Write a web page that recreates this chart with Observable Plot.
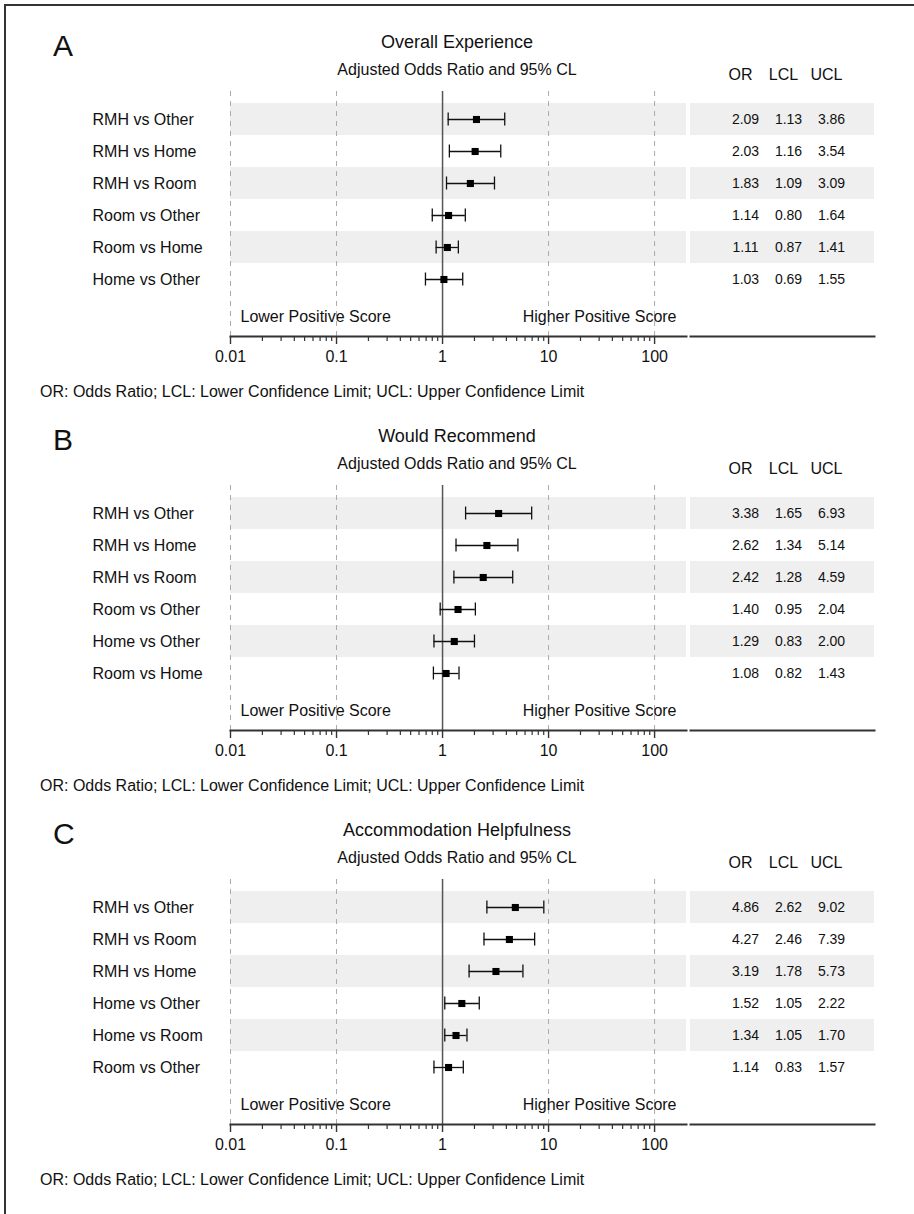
<!DOCTYPE html>
<html>
<head>
<meta charset="utf-8">
<script src="https://cdn.jsdelivr.net/npm/d3@7"></script>
<script src="https://cdn.jsdelivr.net/npm/@observablehq/plot@0.6"></script>
<style>
  body { margin: 0; background: #fff; font-family: "Liberation Sans", Arial, sans-serif; color: #111; }
  .t { position: absolute; line-height: 1; white-space: nowrap; }
  .panel { position: absolute; left: 0; width: 914px; height: 394px; }
  .panel svg { position: absolute; }
</style>
</head>
<body>
<div style="position:absolute;left:4px;top:4px;width:910px;height:1210px;border-left:2px solid #333;border-top:2px solid #333;"></div>
<div id="root"></div>
<script>
// ---- data ----
const panelLetters = ["A", "B", "C"];
const panelTitles = ["Overall Experience", "Would Recommend", "Accommodation Helpfulness"];
const subtitle = "Adjusted Odds Ratio and 95% CL";
const caption = "OR: Odds Ratio; LCL: Lower Confidence Limit; UCL: Upper Confidence Limit";
const tableColumns = ["OR", "LCL", "UCL"];
const lowerLabel = "Lower Positive Score";
const higherLabel = "Higher Positive Score";

const comparisonsA = ["RMH vs Other", "RMH vs Home", "RMH vs Room", "Room vs Other", "Room vs Home", "Home vs Other"];
const orA  = [2.09, 2.03, 1.83, 1.14, 1.11, 1.03];
const lclA = [1.13, 1.16, 1.09, 0.80, 0.87, 0.69];
const uclA = [3.86, 3.54, 3.09, 1.64, 1.41, 1.55];

const comparisonsB = ["RMH vs Other", "RMH vs Home", "RMH vs Room", "Room vs Other", "Home vs Other", "Room vs Home"];
const orB  = [3.38, 2.62, 2.42, 1.40, 1.29, 1.08];
const lclB = [1.65, 1.34, 1.28, 0.95, 0.83, 0.82];
const uclB = [6.93, 5.14, 4.59, 2.04, 2.00, 1.43];

const comparisonsC = ["RMH vs Other", "RMH vs Room", "RMH vs Home", "Home vs Other", "Home vs Room", "Room vs Other"];
const orC  = [4.86, 4.27, 3.19, 1.52, 1.34, 1.14];
const lclC = [2.62, 2.46, 1.78, 1.05, 1.05, 0.83];
const uclC = [9.02, 7.39, 5.73, 2.22, 1.70, 1.57];

const xDomain = [0.01, 200];
const majorTicks = [0.01, 0.1, 1, 10, 100];
const majorTickLabels = ["0.01", "0.1", "1", "10", "100"];
const gridTicks = [0.01, 0.1, 10, 100];
const referenceValue = [1];

// ---- layout ----
const FONT = '"Liberation Sans", Arial, sans-serif';
const PANEL_H = 394;
const SVG_TOP = 60;
const ROW_TOP = 41;
const ROW_STEP = 32.7;
const SVG_H = 310;
const MB = 34;

const series = [
  [comparisonsA, orA, lclA, uclA],
  [comparisonsB, orB, lclB, uclB],
  [comparisonsC, orC, lclC, uclC]
];

const minorTicks = d3.scaleLog().domain([0.01, 100]).ticks().filter(t => !majorTicks.some(m => Math.abs(m - t) / m < 1e-9));

function textDiv(parent, txt, size, centerY, css) {
  const d = document.createElement("div");
  d.className = "t";
  d.textContent = txt;
  d.style.fontSize = size + "px";
  d.style.top = (centerY - 0.488 * size) + "px";
  Object.assign(d.style, css || {});
  parent.appendChild(d);
  return d;
}

const root = document.getElementById("root");

series.forEach(([labels, ors, lcls, ucls], p) => {
  const rows = labels.map((label, i) => ({label, or: ors[i], lcl: lcls[i], ucl: ucls[i]}));
  const shaded = rows.filter((d, i) => i % 2 === 0);
  const yRange = [ROW_TOP, ROW_TOP + labels.length * ROW_STEP];

  const panel = document.createElement("div");
  panel.className = "panel";
  panel.style.top = (p * PANEL_H) + "px";
  root.appendChild(panel);

  textDiv(panel, panelLetters[p], 30, 46, {left: "53px"});
  textDiv(panel, panelTitles[p], 18, 42, {left: "0px", width: "914px", textAlign: "center"});
  textDiv(panel, subtitle, 16, 70, {left: "0px", width: "914px", textAlign: "center"});

  const forest = Plot.plot({
    width: 690, height: SVG_H,
    marginLeft: 230, marginRight: 4, marginTop: ROW_TOP, marginBottom: MB,
    style: {fontFamily: FONT, fontSize: "16px", color: "#111", background: "transparent", overflow: "visible"},
    x: {type: "log", domain: xDomain, label: null},
    y: {type: "band", domain: labels, range: yRange, padding: 0, label: null},
    marks: [
      Plot.cell(shaded, {y: "label", fill: "#efefef"}),
      Plot.ruleX(gridTicks, {stroke: "#aaa", strokeWidth: 1, strokeDasharray: "5,5", insetTop: -10}),
      Plot.ruleX(referenceValue, {stroke: "#555", strokeWidth: 1.5, insetTop: -10}),
      Plot.ruleY(rows, {y: "label", x1: "lcl", x2: "ucl", stroke: "#111", strokeWidth: 1.3}),
      Plot.tickX(rows, {y: "label", x: "lcl", stroke: "#111", strokeWidth: 1.3, insetTop: 9.5, insetBottom: 9.5}),
      Plot.tickX(rows, {y: "label", x: "ucl", stroke: "#111", strokeWidth: 1.3, insetTop: 9.5, insetBottom: 9.5}),
      Plot.dot(rows, {y: "label", x: "or", symbol: "square", r: 4, fill: "#000", stroke: "none"}),
      Plot.axisY({tickSize: 0, tickPadding: 0, textAnchor: "start", dx: -138, fontSize: 16, fill: "#111", label: null}),
      Plot.text([lowerLabel], {text: d => d, frameAnchor: "bottom-left", textAnchor: "start", dx: 10, dy: -15, fontSize: 16, fill: "#111"}),
      Plot.text([higherLabel], {text: d => d, frameAnchor: "bottom-right", textAnchor: "end", dx: -10, dy: -15, fontSize: 16, fill: "#111"}),
      Plot.frame({anchor: "bottom", stroke: "#333", strokeWidth: 2}),
      Plot.axisX({ticks: minorTicks, tickSize: 5, tickFormat: () => "", stroke: "#333", strokeWidth: 1.2, label: null}),
      Plot.axisX({ticks: majorTicks, tickSize: 8, tickPadding: 6, tickFormat: d => majorTickLabels[majorTicks.indexOf(d)], stroke: "#333", strokeWidth: 1.4, fontSize: 16, fill: "#111", label: null})
    ]
  });
  forest.style.left = "0px";
  forest.style.top = SVG_TOP + "px";
  panel.appendChild(forest);

  const cells = rows.flatMap(r => [
    {label: r.label, column: tableColumns[0], value: r.or},
    {label: r.label, column: tableColumns[1], value: r.lcl},
    {label: r.label, column: tableColumns[2], value: r.ucl}
  ]);

  const table = Plot.plot({
    width: 224, height: SVG_H,
    marginLeft: 0, marginRight: 40, marginTop: ROW_TOP, marginBottom: MB,
    style: {fontFamily: FONT, fontSize: "16px", color: "#111", background: "transparent", overflow: "visible"},
    x: {type: "point", domain: tableColumns, padding: 1.115, align: 0.557, label: null},
    y: {type: "band", domain: labels, range: yRange, padding: 0, axis: null},
    marks: [
      Plot.cell(shaded, {y: "label", fill: "#efefef"}),
      Plot.text(cells, {x: "column", y: "label", text: d => d.value.toFixed(2), fontSize: 14, fill: "#111"}),
      Plot.axisX({anchor: "top", tickSize: 0, tickPadding: 22, dx: -5, fontSize: 16, fill: "#111", label: null}),
      Plot.frame({anchor: "bottom", stroke: "#333", strokeWidth: 2})
    ]
  });
  table.style.left = "690px";
  table.style.top = SVG_TOP + "px";
  panel.appendChild(table);

  textDiv(panel, caption, 16, 392, {left: "40px"});
});
</script>
</body>
</html>
